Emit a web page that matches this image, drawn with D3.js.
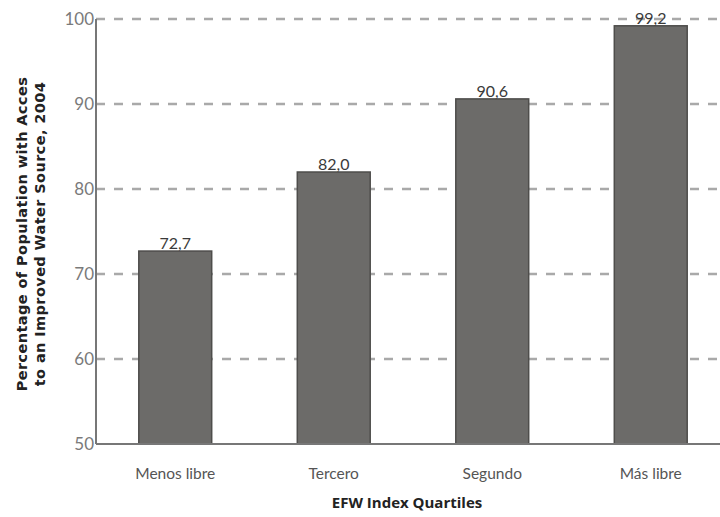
<!DOCTYPE html>
<html>
<head>
<meta charset="utf-8">
<script src="https://cdn.jsdelivr.net/npm/d3@7"></script>
<style>
    body { margin: 0; background: #fff; }
    svg text { font-family: "Lato", "Open Sans", sans-serif; }
</style>
</head>
<body>
<svg id="chart" width="720" height="517"></svg>
<script>
/***************************************************************
    Data
****************************************************************/
const categories = ["Menos libre", "Tercero", "Segundo", "Más libre"];
const values = [72.7, 82.0, 90.6, 99.2];
const yTicks = [50, 60, 70, 80, 90, 100];
const yTitleLines = ["Percentage of Population with Acces", "to an Improved Water Source, 2004"];
const xTitle = "EFW Index Quartiles";

/***************************************************************
    Chart
****************************************************************/
const svg = d3.select("#chart");
const plotLeft = 96, plotRight = 720, plotTop = 19, plotBottom = 444;

var x = d3.scaleBand()
    .domain(categories)
    .range([plotLeft, 730])
    .paddingInner(0.54)
    .paddingOuter(0.27);
var y = d3.scaleLinear().domain([50, 100]).range([plotBottom, plotTop]);

// dashed gridlines
svg.append("g").selectAll("line").data(yTicks.filter(d => d > 50)).enter().append("line")
    .attr("x1", plotLeft).attr("x2", plotRight)
    .attr("y1", d => y(d)).attr("y2", d => y(d))
    .attr("stroke", "#a9a9a9").attr("stroke-width", 2.5)
    .attr("stroke-dasharray", "9,9");

// bars
svg.append("g").selectAll("rect").data(values).enter().append("rect")
    .attr("x", (d, i) => x(categories[i]))
    .attr("y", d => y(d))
    .attr("width", x.bandwidth())
    .attr("height", d => plotBottom - y(d))
    .attr("fill", "#6c6b69")
    .attr("stroke", "#4e4d4b").attr("stroke-width", 1.5);

// value labels
svg.append("g").selectAll("text").data(values).enter().append("text")
    .attr("x", (d, i) => x(categories[i]) + x.bandwidth() / 2)
    .attr("y", d => y(d) - 2)
    .attr("text-anchor", "middle")
    .attr("font-size", 16).attr("fill", "#3a3a3a")
    .text(d => d.toFixed(1).replace(".", ","));

// axes
svg.append("line").attr("x1", plotLeft).attr("x2", plotLeft).attr("y1", plotTop).attr("y2", plotBottom)
    .attr("stroke", "#777").attr("stroke-width", 2);
svg.append("line").attr("x1", plotLeft).attr("x2", plotRight).attr("y1", plotBottom).attr("y2", plotBottom)
    .attr("stroke", "#777").attr("stroke-width", 2);

// y tick labels
svg.append("g").selectAll("text").data(yTicks).enter().append("text")
    .attr("x", plotLeft - 2).attr("y", d => y(d) + 6)
    .attr("text-anchor", "end")
    .attr("font-size", 17).attr("fill", "#7a7a7a")
    .text(d => d);

// category labels
svg.append("g").selectAll("text").data(categories).enter().append("text")
    .attr("x", d => x(d) + x.bandwidth() / 2)
    .attr("y", 479)
    .attr("text-anchor", "middle")
    .attr("font-size", 15.5).attr("fill", "#555")
    .text(d => d);

// axis titles
svg.append("text")
    .attr("x", 407).attr("y", 508)
    .attr("text-anchor", "middle")
    .attr("font-size", 15).attr("font-weight", "bold").attr("fill", "#222")
    .style("font-family", "'Open Sans', sans-serif")
    .text(xTitle);

svg.append("g").attr("transform", "translate(0,234) rotate(-90)")
    .selectAll("text").data(yTitleLines).enter().append("text")
    .attr("x", 0).attr("y", (d, i) => 27 + i * 18)
    .attr("text-anchor", "middle")
    .attr("font-size", 14.5).attr("font-weight", "bold").attr("fill", "#222")
    .attr("letter-spacing", 0.4)
    .style("font-family", "'DejaVu Sans', sans-serif")
    .text(d => d);
</script>
</body>
</html>
